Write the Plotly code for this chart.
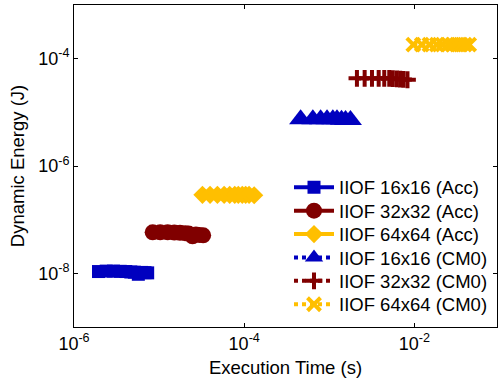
import plotly.graph_objects as go

# ---- data ----
names = ["IIOF 16x16 (Acc)", "IIOF 32x32 (Acc)", "IIOF 64x64 (Acc)",
         "IIOF 16x16 (CM0)", "IIOF 32x32 (CM0)", "IIOF 64x64 (CM0)"]

t_acc16 = [1.94e-6, 2.39e-6, 2.91e-6, 3.49e-6, 4.06e-6, 4.65e-6, 5.12e-6, 5.70e-6, 6.26e-6, 6.83e-6, 7.34e-6]
e_acc16 = [1.08e-8, 1.10e-8, 1.10e-8, 1.09e-8, 1.08e-8, 1.06e-8, 1.05e-8, 0.96e-8, 1.04e-8, 1.03e-8, 1.02e-8]

t_acc32 = [8.4e-6, 1.03e-5, 1.26e-5, 1.51e-5, 1.76e-5, 2.02e-5, 2.22e-5, 2.47e-5, 2.71e-5, 2.96e-5, 3.29e-5]
e_acc32 = [5.8e-8, 5.8e-8, 5.8e-8, 5.75e-8, 5.7e-8, 5.6e-8, 5.5e-8, 4.9e-8, 5.3e-8, 5.2e-8, 5.1e-8]

t_acc64 = [3.23e-5, 3.97e-5, 4.84e-5, 5.81e-5, 6.75e-5, 7.74e-5, 8.52e-5, 9.49e-5, 1.04e-4, 1.14e-4, 1.31e-4]
e_acc64 = [2.9e-7, 2.9e-7, 2.9e-7, 2.9e-7, 2.9e-7, 2.9e-7, 2.9e-7, 2.9e-7, 2.9e-7, 2.9e-7, 2.85e-7]

t_cm16 = [4.6e-4, 6.4e-4, 7.9e-4, 9.4e-4, 1.10e-3, 1.23e-3, 1.39e-3, 1.55e-3, 1.77e-3]
e_cm16 = [7.4e-6, 7.4e-6, 7.4e-6, 7.4e-6, 7.4e-6, 7.4e-6, 7.3e-6, 7.2e-6, 7.2e-6]

t_cm32 = [2.11e-3, 2.60e-3, 3.17e-3, 3.80e-3, 4.42e-3, 5.06e-3, 5.57e-3, 6.21e-3, 6.81e-3, 7.44e-3, 8.28e-3]
e_cm32 = [4.3e-5, 4.3e-5, 4.3e-5, 4.3e-5, 4.3e-5, 4.3e-5, 4.25e-5, 4.2e-5, 4.15e-5, 4.1e-5, 4.05e-5]

t_cm64 = [9.7e-3, 1.22e-2, 1.50e-2, 1.83e-2, 2.15e-2, 2.50e-2, 2.80e-2, 3.15e-2, 3.50e-2, 3.90e-2, 4.40e-2]
e_cm64 = [1.82e-4, 1.82e-4, 1.82e-4, 1.82e-4, 1.82e-4, 1.82e-4, 1.82e-4, 1.82e-4, 1.82e-4, 1.82e-4, 1.82e-4]

x_tick_vals = [1e-6, 1e-4, 1e-2]
x_tick_text = ["10<sup>-6</sup>", "10<sup>-4</sup>", "10<sup>-2</sup>"]
y_tick_vals = [1e-8, 1e-6, 1e-4]
y_tick_text = ["10<sup>-8</sup>", "10<sup>-6</sup>", "10<sup>-4</sup>"]

BLUE = "#0000BF"
RED = "#800000"
YEL = "#FFBF00"

series = [
    (t_acc16, e_acc16, BLUE, "solid", "square", 13),
    (t_acc32, e_acc32, RED, "solid", "circle", 16),
    (t_acc64, e_acc64, YEL, "solid", "diamond", 14),
    (t_cm16, e_cm16, BLUE, "dot", "triangle-up", 20),
    (t_cm32, e_cm32, RED, "dot", "cross-thin", 12),
    (t_cm64, e_cm64, YEL, "dot", "x-thin", 13),
]

# plot area geometry (pixels) used to place the one-entry legends
L, R, T, B = 74, 1, 5, 61
W, H = 498, 388
pw, ph = W - L - R, H - T - B
row_y_px = [187.7 + 23.4 * i for i in range(6)]
leg_x = (289 - L) / pw

fig = go.Figure()
font = "Liberation Sans, Arial, Helvetica, sans-serif"
for i, ((xs, ys, col, dash, sym, sz), nm) in enumerate(zip(series, names)):
    thin = sym.endswith("-thin")
    lg = "legend" if i == 0 else f"legend{i+1}"
    fig.add_trace(go.Scatter(
        x=xs, y=ys, name=nm, mode="lines+markers", legend=lg,
        line=dict(color=col, width=4, dash=dash),
        marker=dict(symbol=sym, size=sz, color=col,
                    line=dict(color=col, width=4 if thin else 0)),
    ))
    fig.update_layout({lg: dict(
        x=leg_x, y=1 - (row_y_px[i] - T) / ph, xanchor="left", yanchor="middle",
        bgcolor="rgba(0,0,0,0)", borderwidth=0,
        font=dict(family=font, size=18.5, color="black"), itemwidth=40)})

fig.update_layout(
    width=W, height=H,
    margin=dict(l=L, r=R, t=T, b=B, autoexpand=False),
    paper_bgcolor="white", plot_bgcolor="white",
    font=dict(family=font, size=18, color="black"),
    showlegend=True,
)
fig.update_xaxes(
    type="log", range=[-6, -1.03],
    tickvals=x_tick_vals, ticktext=x_tick_text,
    ticks="inside", ticklen=4, tickcolor="black",
    showline=True, linecolor="black", linewidth=1, mirror="ticks",
    showgrid=False, zeroline=False,
    title=dict(text="Execution Time (s)", font=dict(size=18.5), standoff=8),
)
fig.update_yaxes(
    type="log", range=[-9, -3],
    tickvals=y_tick_vals, ticktext=y_tick_text,
    ticks="inside", ticklen=4, tickcolor="black",
    showline=True, linecolor="black", linewidth=1, mirror="ticks",
    showgrid=False, zeroline=False,
    title=dict(text="Dynamic Energy (J)", font=dict(size=18.5), standoff=8),
)
fig.write_html("out.html", config={"displayModeBar": False},
               post_script="document.body.style.margin='0';")
